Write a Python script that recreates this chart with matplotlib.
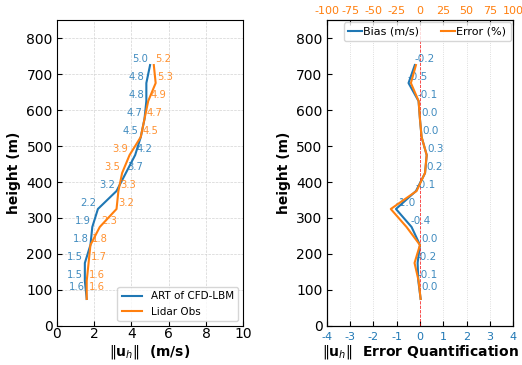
import numpy as np
import matplotlib
matplotlib.use('Agg')
from matplotlib import pyplot as plt

plt.rcParams['axes.unicode_minus'] = False

# heights of the profile points (m)
heights = np.array([75, 125, 175, 225, 275, 325, 375, 425, 475, 525, 575, 625, 675, 725])

# wind speed profiles (m/s)
model = np.array([1.6, 1.5, 1.5, 1.8, 1.9, 2.2, 3.2, 3.7, 4.2, 4.5, 4.7, 4.8, 4.8, 5.0])
lidar = np.array([1.6, 1.6, 1.7, 1.8, 2.3, 3.2, 3.3, 3.5, 3.9, 4.5, 4.7, 4.9, 5.3, 5.2])

# error quantification
bias = np.array([0.03, -0.07, -0.1, 0.0, -0.36, -1.03, -0.17, 0.22, 0.29, 0.07, 0.0, -0.06, -0.49, -0.22])
error_pct = np.array([0.7, -1.4, -5.8, 0.0, -14.4, -31.3, -3.6, 5.4, 7.2, 1.8, 0.0, -1.4, -9.7, -4.3])
bias_labels = ['0.0', '-0.1', '-0.2', '0.0', '-0.4', '-1.0', '-0.1', '0.2', '0.3', '0.0', '0.0', '-0.1', '-0.5', '-0.2']

c_blue = 'tab:blue'
c_orange = 'tab:orange'

# label heights (bottom label sits a bit higher)
lab_y = heights + 16.0
lab_y[0] = heights[0] + 33

fig = plt.figure(figsize=(5.22, 3.65), dpi=100)
ax1 = fig.add_axes([0.109, 0.107, 0.357, 0.838])
ax2 = fig.add_axes([0.626, 0.107, 0.357, 0.838])

# ---- left: speed profiles
ax1.plot(model, heights, color=c_blue, lw=1.5, label='ART of CFD-LBM')
ax1.plot(lidar, heights, color=c_orange, lw=1.5, label='Lidar Obs')
for i in range(len(heights)):
    # smaller value goes on the left side of the lines
    if model[i] <= lidar[i]:
        xb, hb, xo, ho = model[i] - 0.1, 'right', lidar[i] + 0.1, 'left'
    else:
        xb, hb, xo, ho = model[i] + 0.1, 'left', lidar[i] - 0.1, 'right'
    ax1.text(xb, lab_y[i], f'{model[i]:.1f}', color=c_blue, alpha=0.85,
             fontsize=7.2, ha=hb, va='center')
    ax1.text(xo, lab_y[i], f'{lidar[i]:.1f}', color=c_orange, alpha=0.85,
             fontsize=7.2, ha=ho, va='center')
ax1.set_xlim(0, 10)
ax1.set_ylim(0, 850)
ax1.set_xticks(np.arange(0, 11, 2))
ax1.grid(True, ls='--', lw=0.5, color='lightgray')
ax1.tick_params(labelsize=10, direction='in')
ax1.tick_params(axis='x', pad=1)
ax1.tick_params(axis='y', pad=3)
ax1.set_xlabel(r'$\Vert\mathbf{u}_h\Vert$  (m/s)', fontsize=10, fontweight='bold', labelpad=1)
ax1.set_ylabel('height (m)', fontsize=10, fontweight='bold')
ax1.legend(loc='lower right', fontsize=7.5)

# ---- right: bias and error
ax2.plot(bias, heights, color=c_blue, lw=1.5, label='Bias (m/s)')
ax2.axvline(0, color='red', ls='--', lw=0.6, alpha=0.8)
for i in range(len(heights)):
    ax2.text(bias[i] + 0.4, lab_y[i], bias_labels[i], color=c_blue, alpha=0.85,
             fontsize=7.5, ha='center', va='center')
ax2.set_xlim(-4, 4)
ax2.set_ylim(0, 850)
ax2.set_xticks(np.arange(-4, 5, 1))
ax2.tick_params(direction='in')
ax2.tick_params(axis='x', labelsize=8, labelcolor=c_blue, pad=4)
ax2.tick_params(axis='y', labelsize=10, pad=3)
ax2.xaxis.grid(True, ls=':', lw=0.6, color='lightgray')
ax2.set_xlabel(r'$\Vert\mathbf{u}_h\Vert$  Error Quantification', fontsize=10, fontweight='bold', labelpad=1)
ax2.set_ylabel('height (m)', fontsize=10, fontweight='bold')

ax3 = ax2.twiny()
ax3.plot(error_pct, heights, color=c_orange, lw=1.5, label='Error (%)')
ax3.set_xlim(-100, 100)
ax3.set_xticks(np.arange(-100, 101, 25))
ax3.tick_params(axis='x', labelsize=8, labelcolor=c_orange, direction='in', pad=3)

h1, l1 = ax2.get_legend_handles_labels()
h2, l2 = ax3.get_legend_handles_labels()
ax3.legend(h1 + h2, l1 + l2, loc='upper right', ncol=2, fontsize=8,
           handlelength=1.2, handletextpad=0.15, columnspacing=2.0, borderaxespad=0.2)

fig.savefig('out.png', dpi=100)
